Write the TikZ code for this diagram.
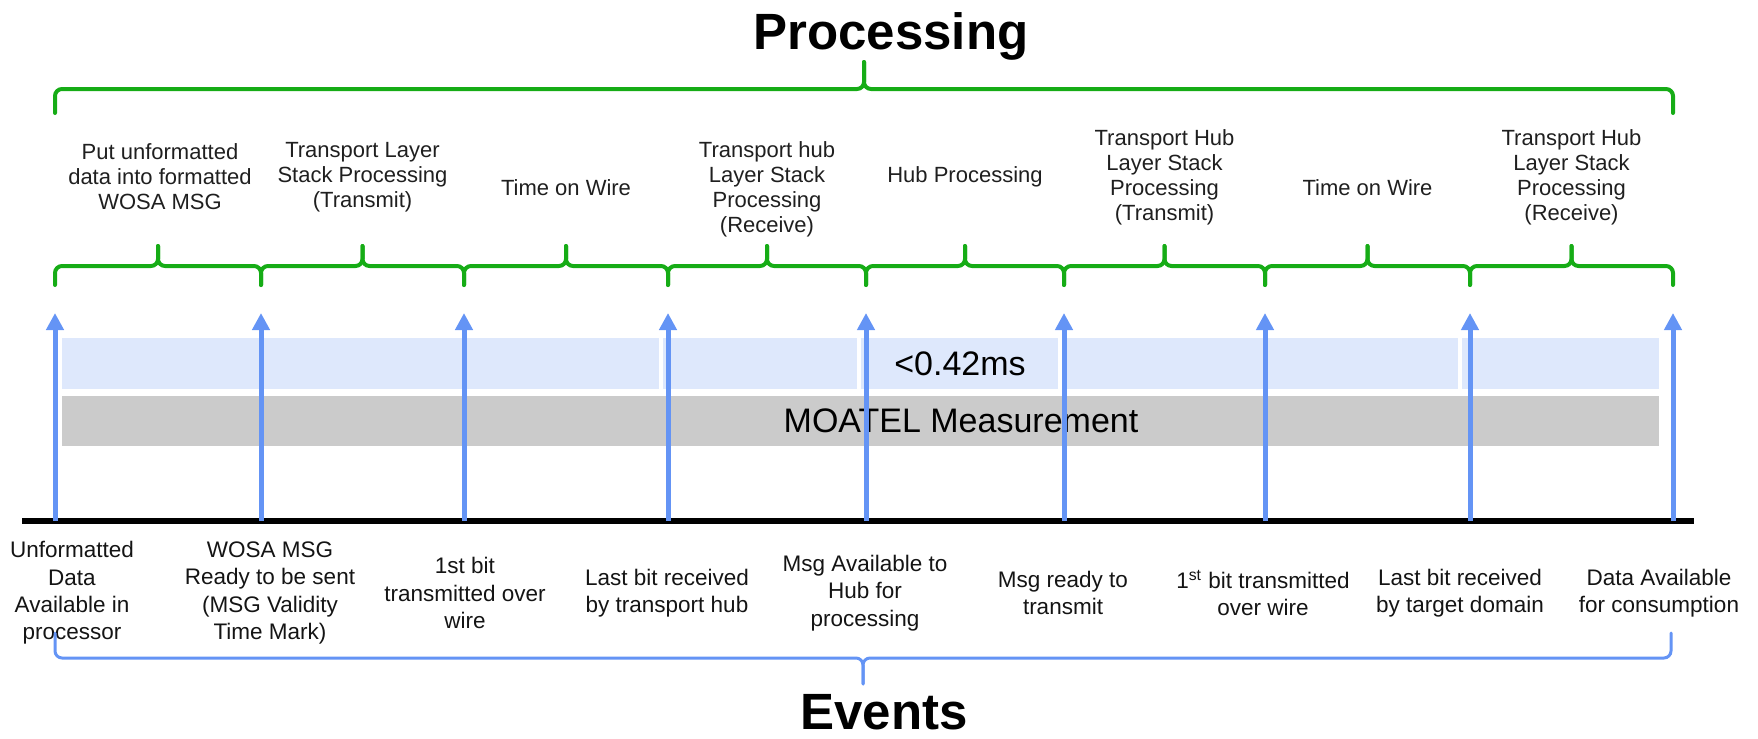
\documentclass[tikz,border=0pt]{standalone}
\usepackage{fontspec}
\setmainfont{Liberation Sans}
\usetikzlibrary{arrows.meta}

\definecolor{bracegreen}{RGB}{22,172,22}
\definecolor{eventblue}{RGB}{100,148,245}
\definecolor{bandblue}{RGB}{222,232,252}
\definecolor{bandgray}{RGB}{203,203,203}

% curly brace: style, left x, right x, bar y, end y, tip y
\newcommand{\curly}[6]{%
  \pgfmathsetmacro{\bracemid}{(#2+#3)/2}%
  \draw[#1] (#2,#5) -- (#2,#4) -- (\bracemid,#4) -- (\bracemid,#6);
  \draw[#1] (#3,#5) -- (#3,#4) -- (\bracemid,#4) -- (\bracemid,#6);
}

\begin{document}
\begin{tikzpicture}[x=0.5pt,y=-0.5pt,
  title/.style={font=\fontsize{25.5}{30}\selectfont\bfseries, anchor=base, inner sep=0pt},
  proc/.style={font=\fontsize{11}{12.5}\selectfont, align=center, text=black!88, inner sep=0pt},
  evt/.style={font=\fontsize{11.25}{13.7}\selectfont, align=center, text=black!92, inner sep=0pt},
  bandtext/.style={font=\fontsize{17}{20}\selectfont, inner sep=0pt},
  greenbrace/.style={draw=bracegreen, line width=2pt, rounded corners=3.5pt, line cap=round},
  bluebrace/.style={draw=eventblue, line width=1.5pt, rounded corners=3.5pt, line cap=round},
  evarrow/.style={draw=eventblue, line width=2.5pt, -{Triangle[length=8.5pt,width=8.5pt]}},
  lightband/.style={fill=bandblue},
  grayband/.style={fill=bandgray}
]
\useasboundingbox (0,0) rectangle (1758,739);

% titles
\node[title] (proctitle) at (891,49) {Processing};
\node[title] (evtitle) at (884,729) {Events};

% overall processing brace and per-step braces
\curly{greenbrace}{55}{1673}{89}{113}{62}
\foreach \a/\b in {55/261,261/464,464/668,668/866,866/1064,1064/1265,1265/1470,1470/1673}
  {\curly{greenbrace}{\a}{\b}{266}{285}{246}}

% processing step labels
\node[proc] (p1) at (160,177) {Put unformatted\\data into formatted\\WOSA MSG};
\node[proc] (p2) at (362.5,177) {Transport Layer\\Stack Processing\\(Transmit)};
\node[proc] (p3) at (566,188) {Time on Wire};
\node[proc] (p4) at (767,189) {Transport hub\\Layer Stack\\Processing\\(Receive)};
\node[proc] (p5) at (965,177) {Hub Processing};
\node[proc] (p6) at (1164.5,177) {Transport Hub\\Layer Stack\\Processing\\(Transmit)};
\node[proc] (p7) at (1367.5,188) {Time on Wire};
\node[proc] (p8) at (1571.5,177) {Transport Hub\\Layer Stack\\Processing\\(Receive)};

% latency band and measurement band
\fill[lightband] (62,338) rectangle (659,389);
\fill[lightband] (663,338) rectangle (857,389);
\fill[lightband] (861,338) rectangle (1058,389);
\fill[lightband] (1062,338) rectangle (1458,389);
\fill[lightband] (1462,338) rectangle (1659,389);
\fill[grayband] (62,396) rectangle (1659,446);
\node[bandtext] (latency) at (960,364) {<0.42ms};
\node[bandtext] (moatel) at (961,421) {MOATEL Measurement};

% time axis
\coordinate (axL) at (22,521);
\coordinate (axR) at (1694,521);
\draw[line width=3pt] (axL) -- (axR);

% event arrows
\foreach \x [count=\i] in {55,261,464,668,866,1064,1265,1470,1673} {
  \coordinate (foot\i) at (\x,521);
  \coordinate (head\i) at (\x,313);
  \draw[evarrow] (foot\i) -- (head\i);
}

% event labels
\node[evt] (e1) at (72,593) {Unformatted\\Data\\Available in\\processor};
\node[evt] (e2) at (270,593) {WOSA MSG\\Ready to be sent\\(MSG Validity\\Time Mark)};
\node[evt] (e3) at (465,593) {1st bit\\transmitted over\\wire};
\node[evt] (e4) at (667,593) {Last bit received\\by transport hub};
\node[evt] (e5) at (865,593) {Msg Available to\\Hub for\\processing};
\node[evt] (e6) at (1063,593) {Msg ready to\\transmit};
\node[evt] (e7) at (1263,593) {1\textsuperscript{st} bit transmitted\\over wire};
\node[evt] (e8) at (1460,593) {Last bit received\\by target domain};
\node[evt] (e9) at (1659,593) {Data Available\\for consumption};

% events brace
\curly{bluebrace}{55}{1671}{658}{633}{684}
\end{tikzpicture}
\end{document}
